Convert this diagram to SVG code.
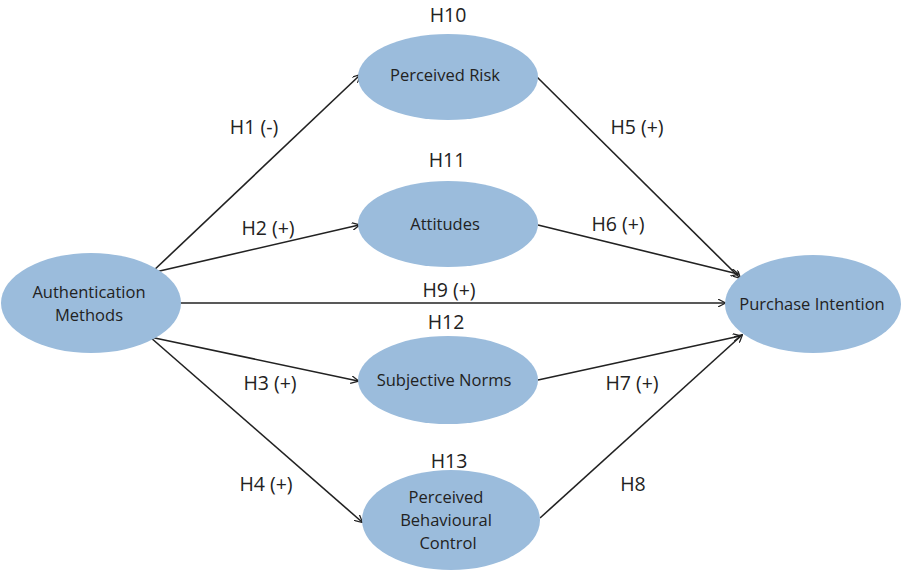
<svg xmlns="http://www.w3.org/2000/svg" width="901" height="570" viewBox="0 0 901 570">
<defs>
<marker id="ah" viewBox="0 0 10 10" refX="9" refY="5" markerWidth="8" markerHeight="8" markerUnits="userSpaceOnUse" orient="auto">
<path d="M0,0 L10,5 L0,10" fill="none" stroke="#222" stroke-width="1.6"/>
</marker>
<style>
.n{fill:#9bbcdc;}
.t{font-family:"Open Sans","Noto Sans",sans-serif;font-size:16.5px;fill:#222;text-anchor:middle;}
.l{font-family:"Open Sans","Noto Sans",sans-serif;font-size:19.5px;fill:#222;text-anchor:middle;}
.c{stroke:#222;stroke-width:1.6;fill:none;marker-end:url(#ah);}
</style>
</defs>
<rect width="901" height="570" fill="#fff"/>
<g id="connectors">
<line class="c" x1="151" y1="273" x2="360" y2="75"/>
<line class="c" x1="151" y1="273" x2="359" y2="225"/>
<line class="c" x1="180" y1="303" x2="725" y2="303"/>
<line class="c" x1="150" y1="337" x2="358" y2="381"/>
<line class="c" x1="150" y1="337" x2="362" y2="522"/>
<line class="c" x1="537" y1="77" x2="740" y2="278"/>
<line class="c" x1="538" y1="225" x2="738" y2="274"/>
<line class="c" x1="538" y1="380" x2="740" y2="336"/>
<line class="c" x1="540" y1="518" x2="742" y2="335"/>
</g>
<g id="authentication-methods">
<ellipse class="n" cx="91" cy="303" rx="90" ry="50"/>
<text class="t" x="89" y="298">Authentication</text>
<text class="t" x="89" y="321">Methods</text>
</g>
<g id="perceived-risk">
<ellipse class="n" cx="448" cy="77" rx="90" ry="43"/>
<text class="t" x="445" y="81">Perceived Risk</text>
<text class="l" x="448" y="22">H10</text>
</g>
<g id="attitudes">
<ellipse class="n" cx="448" cy="224" rx="90" ry="43"/>
<text class="t" x="445" y="230">Attitudes</text>
<text class="l" x="447" y="167">H11</text>
</g>
<g id="subjective-norms">
<ellipse class="n" cx="448" cy="380" rx="90" ry="44"/>
<text class="t" x="444" y="386">Subjective Norms</text>
<text class="l" x="446" y="329">H12</text>
</g>
<g id="perceived-behavioural-control">
<ellipse class="n" cx="451" cy="520" rx="89" ry="50"/>
<text class="t" x="446" y="503">Perceived</text>
<text class="t" x="446" y="526">Behavioural</text>
<text class="t" x="448" y="549">Control</text>
<text class="l" x="449" y="468">H13</text>
</g>
<g id="purchase-intention">
<ellipse class="n" cx="813" cy="304" rx="88" ry="49"/>
<text class="t" x="812" y="310">Purchase Intention</text>
</g>
<g id="labels">
<text class="l" x="254" y="134">H1 (-)</text>
<text class="l" x="268" y="235">H2 (+)</text>
<text class="l" x="449" y="297">H9 (+)</text>
<text class="l" x="270" y="390">H3 (+)</text>
<text class="l" x="266" y="491">H4 (+)</text>
<text class="l" x="637" y="134">H5 (+)</text>
<text class="l" x="618" y="231">H6 (+)</text>
<text class="l" x="632" y="390">H7 (+)</text>
<text class="l" x="633" y="491">H8</text>
</g>
</svg>
